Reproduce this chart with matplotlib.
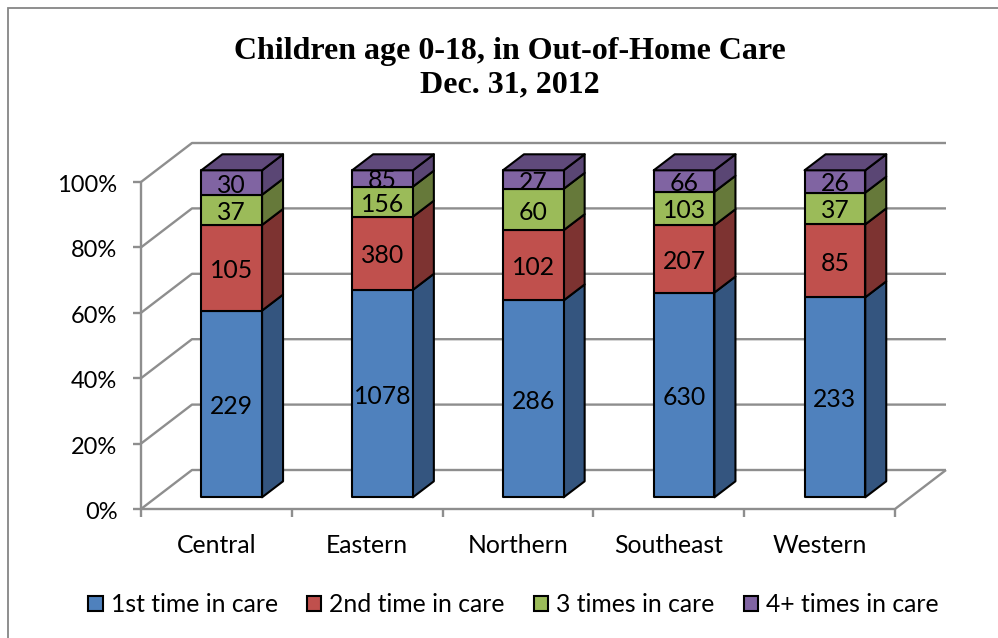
import matplotlib
matplotlib.use("Agg")
import matplotlib.pyplot as plt
from matplotlib.patches import Polygon, Rectangle, Patch
from matplotlib.transforms import ScaledTranslation
import numpy as np

categories = ["Central", "Eastern", "Northern", "Southeast", "Western"]
series_names = ["1st time in care", "2nd time in care", "3 times in care", "4+ times in care"]
first_time = [229, 1078, 286, 630, 233]
second_time = [105, 380, 102, 207, 85]
third_time = [37, 156, 60, 103, 37]
fourth_time = [30, 85, 27, 66, 26]
y_ticks = [0, 20, 40, 60, 80, 100]

front_colors = ["#4F81BD", "#C0504D", "#9BBB59", "#8064A2"]
side_colors = ["#34557F", "#7D3331", "#66793A", "#5A4674"]
top_colors = ["#34557F", "#7D3331", "#66793A", "#604A7B"]
GRID = "#8E8E8E"

W, H = 998, 638
fig = plt.figure(figsize=(W / 100, H / 100), dpi=100, facecolor="white")
plt.rcParams["font.family"] = ["Lato", "DejaVu Sans"]
FS = 17.8

# front plane of the pseudo-3D box, in pixels
L, R, B, T = 141.0, 895.0, 509.0, 182.0
ax = fig.add_axes([L / W, 1 - B / H, (R - L) / W, (B - T) / H])
ax.set_xlim(0, 5)
ax.set_ylim(0, 100)
ax.patch.set_visible(False)
for s in ax.spines.values():
    s.set_visible(False)

ux = (R - L) / 5      # pixels per category
uy = (B - T) / 100    # pixels per percent
wall_dx, wall_dy = 51 / ux, 39 / uy          # depth of box
bar_off_x, bar_off_y = 15.3 / ux, 11.7 / uy  # bar inset from the front plane
bar_dx, bar_dy = 21 / ux, 16 / uy            # bar depth
bar_w = 60.7 / ux

# walls & floor
lw = 1.7
line = dict(color=GRID, lw=lw, clip_on=False, zorder=1, solid_capstyle="butt")
for t in y_ticks:
    ax.plot([0, wall_dx, 5 + wall_dx], [t, t + wall_dy, t + wall_dy], **line)
ax.plot([0, 0], [0, 100], **line)
ax.plot([0, 5, 5 + wall_dx], [0, 0, wall_dy], **line)

# ticks and tick labels
ax.set_xticks(range(6))
ax.set_xticklabels([])
ax.set_xticks(np.arange(5) + 0.5, categories, minor=True)
ax.set_yticks(y_ticks, [f"{t}%" for t in y_ticks])
ax.tick_params(axis="both", which="major", color=GRID, width=lw, length=6, labelsize=FS, pad=11, labelcolor="black")
ax.tick_params(axis="y", which="major", labelsize=17)
ax.tick_params(axis="x", which="minor", length=0, labelsize=FS, pad=17.8, labelcolor="black")
down1 = ScaledTranslation(0, -1.5 / 100, fig.dpi_scale_trans)
for lab in ax.get_yticklabels():
    lab.set_transform(lab.get_transform() + down1)

# stacked bars as percent of each category's total
values = np.array([first_time, second_time, third_time, fourth_time], dtype=float)
shares = values / values.sum(axis=0) * 100
edge = dict(edgecolor="black", lw=1.5, clip_on=False, joinstyle="round")
down3 = ax.transData + ScaledTranslation(0, -2.5 / 100, fig.dpi_scale_trans)
z = 3
for i in range(len(categories)):
    x0 = i + 0.5 + bar_off_x - bar_w / 2
    x1 = x0 + bar_w
    bottom = bar_off_y
    for k in range(len(series_names)):
        top = bottom + shares[k, i]
        ax.add_patch(Polygon([(x1, bottom), (x1 + bar_dx, bottom + bar_dy), (x1 + bar_dx, top + bar_dy), (x1, top)],
                             facecolor=side_colors[k], zorder=z, **edge))
        ax.add_patch(Polygon([(x0, bottom), (x1, bottom), (x1, top), (x0, top)],
                             facecolor=front_colors[k], zorder=z + 1, **edge))
        if k == len(series_names) - 1:
            ax.add_patch(Polygon([(x0, top), (x1, top), (x1 + bar_dx, top + bar_dy), (x0 + bar_dx, top + bar_dy)],
                                 facecolor=top_colors[k], zorder=z + 1, **edge))
        ax.text((x0 + x1) / 2, (bottom + top) / 2, f"{int(values[k, i])}", ha="center", va="center",
                fontsize=FS, color="black", zorder=z + 2, clip_on=False, transform=down3)
        bottom = top

# legend
handles = [Patch(facecolor=c, edgecolor="black", lw=1.5) for c in front_colors]
fig.legend(handles, series_names, loc="center", bbox_to_anchor=(513.5 / W, 1 - 604.5 / H), ncol=4, frameon=False,
           fontsize=FS, handlelength=0.58, handleheight=0.58, handletextpad=0.32, columnspacing=1.18)

# title
fig.text(509.5 / W, 1 - 68.5 / H, "Children age 0-18, in Out-of-Home Care\nDec. 31, 2012", ha="center", va="center",
         fontsize=23, fontweight="bold", family="Liberation Serif", linespacing=1.2)

# chart frame (right and bottom edges fall outside the image)
fig.add_artist(Rectangle((8 / W, 1 - 700 / H), 1100 / W, 692 / H, transform=fig.transFigure, fill=False,
                         edgecolor="#868686", lw=1.3))

fig.savefig("out.png", dpi=100)
